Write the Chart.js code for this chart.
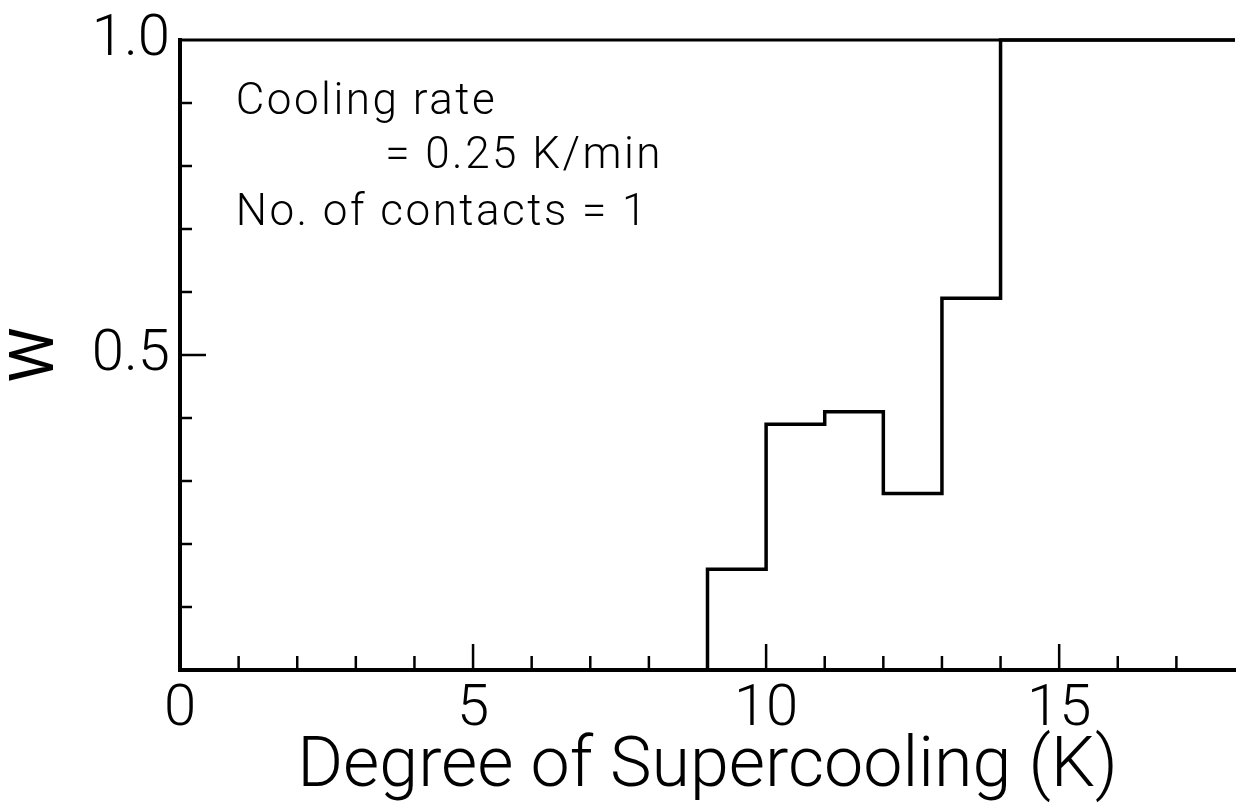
<!DOCTYPE html>
<html>
<head>
<meta charset="utf-8">
<title>Degree of Supercooling</title>
<script src="https://cdn.jsdelivr.net/npm/chart.js@4/dist/chart.umd.min.js"></script>
<style>
  html, body { margin: 0; padding: 0; background: #fff; }
  canvas { display: block; }
</style>
</head>
<body>
<canvas id="chart" width="1237" height="812"></canvas>
<script>
// step histogram, W per 1 K bin
const binStart = [9, 10, 11, 12, 13, 14];
const binEnd = [10, 11, 12, 13, 14, 18];
const wValues = [0.16, 0.39, 0.41, 0.28, 0.59, 1.0];

const xTickLabels = [0, 5, 10, 15];
const yTickLabels = [0.5, 1.0];
const noteLines = ["Cooling rate", "= 0.25 K/min", "No. of contacts = 1"];
const noteX = [0.95, 3.5, 0.95];
const noteY = [0.883, 0.797, 0.707];

const FONT = "Roboto, 'Liberation Sans', sans-serif";
const INK = "#000";

const points = [{ x: binStart[0], y: 0 }]
  .concat(binStart.map((x, i) => ({ x: x, y: wValues[i] })))
  .concat([{ x: binEnd[binEnd.length - 1], y: wValues[wValues.length - 1] }]);

// inward ticks, top frame line and the note text
const framePlugin = {
  id: "frame",
  afterDraw(chart) {
    const { ctx, chartArea, scales } = chart;
    const xs = scales.x;
    const ys = scales.y;
    ctx.save();
    ctx.strokeStyle = INK;
    ctx.lineWidth = 3;
    ctx.beginPath();
    ctx.moveTo(chartArea.left, chartArea.top);
    ctx.lineTo(chartArea.right, chartArea.top);
    ctx.stroke();

    ctx.lineWidth = 2.5;
    xs.ticks.forEach((t) => {
      if (t.value <= xs.min || t.value >= xs.max) return;
      const px = xs.getPixelForValue(t.value);
      const len = t.value % 5 === 0 ? 26 : 14;
      ctx.beginPath();
      ctx.moveTo(px, chartArea.bottom);
      ctx.lineTo(px, chartArea.bottom - len);
      ctx.stroke();
    });
    ys.ticks.forEach((t) => {
      if (t.value <= ys.min || t.value >= ys.max) return;
      const py = ys.getPixelForValue(t.value);
      const len = Math.abs(t.value - 0.5) < 1e-6 ? 26 : 12;
      ctx.beginPath();
      ctx.moveTo(chartArea.left, py);
      ctx.lineTo(chartArea.left + len, py);
      ctx.stroke();
    });

    ctx.fillStyle = INK;
    ctx.font = "300 44px " + FONT;
    ctx.textBaseline = "alphabetic";
    ctx.textAlign = "left";
    ctx.letterSpacing = "2.5px";
    noteLines.forEach((line, i) => {
      ctx.fillText(line, xs.getPixelForValue(noteX[i]), ys.getPixelForValue(noteY[i]));
    });
    ctx.restore();
  },
};

const chart = new Chart(document.getElementById("chart"), {
  type: "line",
  data: {
    datasets: [
      {
        label: "W",
        data: points,
        stepped: true,
        borderColor: INK,
        borderWidth: 3.5,
        pointRadius: 0,
        fill: false,
        clip: 6,
      },
    ],
  },
  options: {
    responsive: false,
    animation: false,
    devicePixelRatio: 1,
    layout: { padding: { top: 40, right: 2, left: 0, bottom: 0 } },
    plugins: {
      legend: { display: false },
      tooltip: { enabled: false },
    },
    scales: {
      x: {
        type: "linear",
        min: 0,
        max: 18,
        grid: { display: false, drawTicks: false },
        border: { display: true, color: INK, width: 4 },
        ticks: {
          stepSize: 1,
          autoSkip: false,
          maxRotation: 0,
          padding: 6,
          color: INK,
          font: { family: FONT, size: 58, weight: "300" },
          callback: (v) => (xTickLabels.includes(v) ? String(v) : ""),
        },
        title: {
          display: true,
          text: "Degree of Supercooling (K)",
          color: INK,
          font: { family: FONT, size: 70, weight: "300", lineHeight: 1.2 },
          padding: { top: 0, bottom: 2 },
        },
        afterFit: (scale) => {
          scale.height = 142;
          scale.paddingLeft = 0;
          scale.paddingRight = 0;
        },
      },
      y: {
        min: 0,
        max: 1,
        grid: { display: false, drawTicks: false },
        border: { display: true, color: INK, width: 4 },
        ticks: {
          stepSize: 0.1,
          autoSkip: false,
          padding: 10,
          color: INK,
          font: { family: FONT, size: 58, weight: "300" },
          callback: (v) =>
            yTickLabels.some((l) => Math.abs(l - v) < 1e-6) ? v.toFixed(1) : "",
        },
        title: {
          display: true,
          text: "W",
          color: INK,
          font: { family: FONT, size: 62, weight: "400", lineHeight: 1.2 },
          padding: { top: 0, bottom: 0 },
        },
        afterFit: (scale) => {
          scale.width = 180;
          scale.paddingTop = 0;
          scale.paddingBottom = 0;
        },
      },
    },
  },
  plugins: [framePlugin],
});
</script>
</body>
</html>
